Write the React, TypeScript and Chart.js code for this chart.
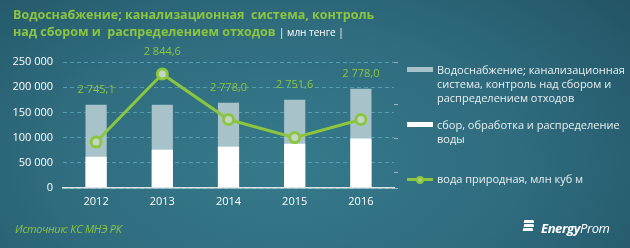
import React, { useEffect, useRef } from "react";
import { Chart, registerables } from "chart.js";

Chart.register(...registerables);

const categories = ["2012", "2013", "2014", "2015", "2016"];
const totalSeriesName = "Водоснабжение; канализационная система, контроль над сбором и распределением отходов";
const totalValues = [165000, 165000, 169000, 175000, 197000];
const waterSeriesName = "сбор, обработка и распределение воды";
const waterValues = [62000, 76000, 82000, 88000, 98000];
const naturalSeriesName = "вода природная, млн куб м";
const naturalValues = [2745.1, 2844.6, 2778.0, 2751.6, 2778.0];
const naturalLabels = ["2 745,1", "2 844,6", "2 778,0", "2 751,6", "2 778,0"];

const GREEN = "#8cc63f";
const GREY = "#a8c2ca";
const FONT = "'Open Sans', 'Noto Sans', sans-serif";

const fmt = (v: number) => String(v).replace(/\B(?=(\d{3})+(?!\d))/g, " ");

const labelPlugin = {
  id: "naturalLabels",
  afterDatasetsDraw(chart: any) {
    const ctx = chart.ctx;
    const lineMeta = chart.getDatasetMeta(2);
    const barMeta = chart.getDatasetMeta(0);
    ctx.save();
    ctx.fillStyle = GREEN;
    ctx.font = `11px ${FONT}`;
    ctx.textAlign = "center";
    ctx.textBaseline = "middle";
    lineMeta.data.forEach((pt: any, i: number) => {
      const top = Math.min(pt.y - 7, barMeta.data[i].y);
      ctx.fillText(naturalLabels[i], pt.x, top - 15);
    });
    ctx.restore();
  },
};

export default function App() {
  const ref = useRef<HTMLCanvasElement>(null);

  useEffect(() => {
    if (!ref.current) return;
    const chart = new Chart(ref.current, {
      type: "bar",
      data: {
        labels: categories,
        datasets: [
          {
            label: totalSeriesName,
            data: totalValues,
            backgroundColor: GREY,
            barPercentage: 0.32,
            categoryPercentage: 1,
            grouped: false,
            order: 2,
            yAxisID: "y",
          } as any,
          {
            label: waterSeriesName,
            data: waterValues,
            backgroundColor: "#ffffff",
            barPercentage: 0.32,
            categoryPercentage: 1,
            grouped: false,
            order: 1,
            yAxisID: "y",
          } as any,
          {
            type: "line",
            label: naturalSeriesName,
            data: naturalValues,
            yAxisID: "y1",
            borderColor: GREEN,
            borderWidth: 3,
            pointRadius: 5,
            pointBorderWidth: 3,
            pointBorderColor: GREEN,
            pointBackgroundColor: "#c3d5c8",
            order: 0,
            tension: 0,
          } as any,
        ],
      },
      options: {
        responsive: false,
        animation: false,
        devicePixelRatio: 1,
        layout: { padding: { left: 0, top: 62, right: 228, bottom: 30 } },
        plugins: { legend: { display: false }, tooltip: { enabled: false } },
        scales: {
          x: {
            grid: { display: false, drawTicks: false },
            border: { display: true, color: "#dbe5e8", width: 1.5 },
            ticks: { color: "#ffffff", font: { family: FONT, size: 11 }, padding: 7 },
            afterFit: (s: any) => { s.height = 30; },
          },
          y: {
            position: "left",
            min: 0,
            max: 250000,
            ticks: {
              stepSize: 50000,
              color: "#ffffff",
              font: { family: FONT, size: 11 },
              padding: 10,
              callback: (v: any) => fmt(Number(v)),
            },
            grid: { color: "rgba(110,185,205,0.6)", drawTicks: false, lineWidth: 1 },
            border: { display: false, dash: [4, 3] },
            afterFit: (s: any) => { s.width = 63; },
          },
          y1: {
            position: "right",
            min: 2678,
            max: 2862,
            ticks: { display: false, maxTicksLimit: 9 },
            grid: { drawOnChartArea: false, drawTicks: true, tickLength: 4, tickColor: "rgba(210,225,230,0.6)" },
            border: { display: false },
            afterFit: (s: any) => { s.width = 8; },
          },
        },
      } as any,
      plugins: [labelPlugin],
    });
    return () => chart.destroy();
  }, []);

  const legendText: React.CSSProperties = {
    position: "absolute",
    left: 437,
    font: `11px ${FONT}`,
    lineHeight: "14px",
    color: "#e8eff1",
    whiteSpace: "nowrap",
  };

  return (
    <div
      style={{
        position: "fixed",
        left: 0,
        top: 0,
        width: 630,
        height: 248,
        overflow: "hidden",
        background:
          "radial-gradient(ellipse 75% 110% at 45% 65%, #357a8b 0%, #2f6c7e 50%, #255a6b 85%, #21505f 100%)",
      }}
    >
      <canvas ref={ref} width={630} height={248} style={{ position: "absolute", left: 0, top: 0 }} />
      <div
        style={{
          position: "absolute",
          left: 13,
          top: 6,
          font: `bold 12.5px ${FONT}`,
          lineHeight: "17px",
          color: GREEN,
          whiteSpace: "nowrap",
        }}
      >
        Водоснабжение; канализационная&nbsp; система, контроль
        <br />
        над сбором и&nbsp; распределением отходов{" "}
        <span style={{ color: "#ffffff", fontWeight: "normal", fontSize: 10 }}>| млн тенге |</span>
      </div>

      <div style={{ position: "absolute", left: 407, top: 67, width: 26, height: 5, background: GREY }} />
      <div style={{ ...legendText, top: 63 }}>
        Водоснабжение; канализационная
        <br />
        система, контроль над сбором и
        <br />
        распределением отходов
      </div>
      <div style={{ position: "absolute", left: 407, top: 122, width: 26, height: 5, background: "#ffffff" }} />
      <div style={{ ...legendText, top: 118 }}>
        сбор, обработка и распределение
        <br />
        воды
      </div>
      <div style={{ position: "absolute", left: 407, top: 178, width: 26, height: 3, background: GREEN }} />
      <div
        style={{
          position: "absolute",
          left: 416,
          top: 175.5,
          width: 8,
          height: 8,
          borderRadius: 4,
          background: "#a6d46a",
          boxSizing: "border-box",
          border: `2px solid ${GREEN}`,
        }}
      />
      <div style={{ ...legendText, top: 172 }}>{naturalSeriesName}</div>

      <div
        style={{
          position: "absolute",
          left: 15,
          top: 221,
          font: `italic 11px ${FONT}`,
          lineHeight: "16px",
          color: GREEN,
          whiteSpace: "nowrap",
          letterSpacing: -0.3,
        }}
      >
        Источник: КС МНЭ РК
      </div>

      <div style={{ position: "absolute", left: 523, top: 220, width: 11, height: 11 }}>
        {[0, 4, 8].map((t) => (
          <div
            key={t}
            style={{
              position: "absolute",
              left: t === 8 ? 0 : 1,
              top: t,
              width: 10,
              height: 3,
              background: "#ffffff",
              borderTopRightRadius: 2,
              transform: "skewX(-15deg)",
            }}
          />
        ))}
      </div>
      <div
        style={{
          position: "absolute",
          left: 541,
          top: 219,
          font: `italic 13px ${FONT}`,
          lineHeight: "18px",
          color: "#ffffff",
          whiteSpace: "nowrap",
          letterSpacing: -0.4,
        }}
      >
        <span style={{ fontWeight: "bold" }}>Energy</span>
        <span>Prom</span>
      </div>
    </div>
  );
}
